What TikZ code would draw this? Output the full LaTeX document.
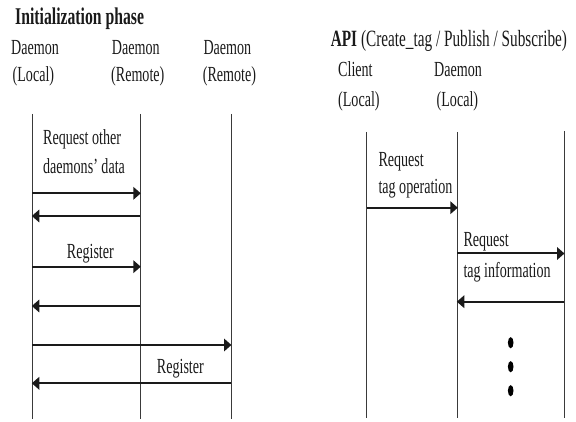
\documentclass[tikz,border=0pt]{standalone}
\usepackage{fontspec}
\setmainfont[FakeStretch=0.655]{Liberation Serif}
\usetikzlibrary{arrows.meta}
\definecolor{ink}{HTML}{1A1A1A}
\definecolor{lifec}{HTML}{3A3A3A}
\tikzset{
  lbl/.style={anchor=base west,inner sep=0pt,text=ink,font=\fontsize{21.5}{25}\selectfont},
  ttl/.style={anchor=base west,inner sep=0pt,text=ink,font=\fontsize{24}{28}\selectfont},
  apil/.style={anchor=base west,inner sep=0pt,text=ink,font=\fontsize{23.3}{28}\selectfont},
  life/.style={draw=lifec,line width=0.9pt},
  msg/.style={draw=ink,line width=2pt,-{Triangle[length=7.5pt,width=12.5pt]},shorten >=-0.5pt},
  dot/.style={fill=black,draw=none}
}
\begin{document}
\begin{tikzpicture}[x=1pt,y=-1pt]
\useasboundingbox (0,0) rectangle (576,422);
% headers left
\node[ttl] (title) at (15,25) {\textbf{Initialization phase}};
\node[lbl] (d1) at (11,54.3) {Daemon};
\node[lbl] (d1b) at (12.5,81.5) {(Local)};
\node[lbl] (d2) at (111.7,54.3) {Daemon};
\node[lbl] (d2b) at (111,81.5) {(Remote)};
\node[lbl] (d3) at (203.3,54.3) {Daemon};
\node[lbl] (d3b) at (202.7,81.5) {(Remote)};
% headers right
\node[apil] (api) at (330.7,46.7) {\textbf{API} (Create\_tag / Publish / Subscribe)};
\node[lbl] (c1) at (338,76.7) {Client};
\node[lbl] (c1b) at (338,107) {(Local)};
\node[lbl] (c2) at (434,76.7) {Daemon};
\node[lbl] (c2b) at (436.5,107) {(Local)};
% lifelines left
\coordinate (A1t) at (32.3,114); \coordinate (A1b) at (32.3,419);
\coordinate (A2t) at (140.3,114); \coordinate (A2b) at (140.3,419);
\coordinate (A3t) at (231,114); \coordinate (A3b) at (231,419);
\draw[life] (A1t) -- (A1b);
\draw[life] (A2t) -- (A2b);
\draw[life] (A3t) -- (A3b);
% lifelines right
\coordinate (B1t) at (366.7,132); \coordinate (B1b) at (366.7,418);
\coordinate (B2t) at (457.3,132); \coordinate (B2b) at (457.3,418);
\coordinate (B3t) at (564,131); \coordinate (B3b) at (564,418);
\draw[life] (B1t) -- (B1b);
\draw[life] (B2t) -- (B2b);
\draw[life] (B3t) -- (B3b);
% message levels
\coordinate (m1) at (0,193.3);
\coordinate (m2) at (0,216);
\coordinate (m3) at (0,266.7);
\coordinate (m4) at (0,306);
\coordinate (m5) at (0,345);
\coordinate (m6) at (0,383.3);
\coordinate (n1) at (0,207.7);
\coordinate (n2) at (0,253.5);
\coordinate (n3) at (0,301.7);
% left messages
\draw[msg] (A1t |- m1) -- (A2t |- m1);
\draw[msg] (A2t |- m2) -- (A1t |- m2);
\draw[msg] (A1t |- m3) -- (A2t |- m3);
\draw[msg] (A2t |- m4) -- (A1t |- m4);
\draw[msg] (A1t |- m5) -- (A3t |- m5);
\draw[msg] (A3t |- m6) -- (A1t |- m6);
% right messages
\draw[msg] (B1t |- n1) -- (B2t |- n1);
\draw[msg] (B2t |- n2) -- (B3t |- n2);
\draw[msg] (B3t |- n3) -- (B2t |- n3);
% labels
\node[lbl] (r1a) at (43,144.3) {Request other};
\node[lbl] (r1b) at (43,173.3) {daemons’ data};
\node[lbl] (reg1) at (66.7,258.3) {Register};
\node[lbl] (reg2) at (156.7,373.3) {Register};
\node[lbl] (t1a) at (378.3,166.7) {Request};
\node[lbl] (t1b) at (378.3,193.3) {tag operation};
\node[lbl] (t2a) at (463.3,246.7) {Request};
\node[lbl] (t2b) at (463.3,278) {tag information};
% dots
\fill[dot] (510.7,342.7) ellipse [x radius=2.8, y radius=5.6];
\fill[dot] (510.7,366.7) ellipse [x radius=2.8, y radius=5.6];
\fill[dot] (510.7,390.7) ellipse [x radius=2.8, y radius=5.6];
\end{tikzpicture}
\end{document}
